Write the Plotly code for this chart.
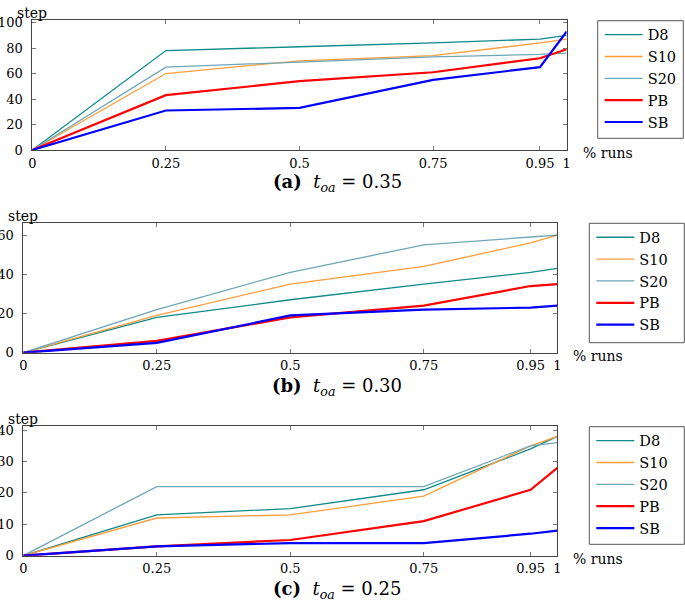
import plotly.graph_objects as go

x_vals = [0, 0.25, 0.5, 0.75, 0.95, 1]
series_names = ["D8", "S10", "S20", "PB", "SB"]

# panel (a) t_oa = 0.35
a_D8 = [0, 78, 81, 84, 87, 90]
a_S10 = [0, 60, 70, 74, 84, 87]
a_S20 = [0, 65, 69, 73, 75, 76]
a_PB = [0, 43, 54, 61, 72, 79]
a_SB = [0, 31, 33, 55, 65, 93]

# panel (b) t_oa = 0.30
b_D8 = [0, 18, 27, 35, 41, 43]
b_S10 = [0, 19, 35, 44, 56, 60]
b_S20 = [0, 22, 41, 55, 59, 60]
b_PB = [0, 6, 18, 24, 34, 35]
b_SB = [0, 5, 19, 22, 23, 24]

# panel (c) t_oa = 0.25
c_D8 = [0, 13, 15, 21, 34, 38]
c_S10 = [0, 12, 13, 19, 35, 38]
c_S20 = [0, 22, 22, 22, 35, 36]
c_PB = [0, 3, 5, 11, 21, 28]
c_SB = [0, 3, 4, 4, 7, 8]

x_tick_vals = [0, 0.25, 0.5, 0.75, 0.95, 1]
x_tick_text = ["0", "0.25", "0.5", "0.75", "0.95", "1"]
y_ticks_a = [0, 20, 40, 60, 80, 100]
y_ticks_b = [0, 20, 40, 60]
y_ticks_c = [0, 10, 20, 30, 40]
captions = ["<b>(a)</b>  <i>t</i><sub><i>oa</i></sub> = 0.35",
            "<b>(b)</b>  <i>t</i><sub><i>oa</i></sub> = 0.30",
            "<b>(c)</b>  <i>t</i><sub><i>oa</i></sub> = 0.25"]

colors = {"D8": "#0f8a8a", "S10": "#ff9d3a", "S20": "#6fa6b8", "PB": "#ff0000", "SB": "#0000ff"}
widths = {"D8": 1.3, "S10": 1.3, "S20": 1.3, "PB": 2.2, "SB": 2.2}

W, H = 685, 607
FONT = "DejaVu Serif"

panels = [
    dict(data=[a_D8, a_S10, a_S20, a_PB, a_SB], xdom=(32.3, 566.7), ydom=(20, 150),
         yr=[0, 102], yt=y_ticks_a, leg=(597.7, 683.3, 20.7, 138.3), cap=183),
    dict(data=[b_D8, b_S10, b_S20, b_PB, b_SB], xdom=(23.3, 557.3), ydom=(223.3, 352.7),
         yr=[0, 66], yt=y_ticks_b, leg=(589.3, 684.3, 223.3, 342.7), cap=387),
    dict(data=[c_D8, c_S10, c_S20, c_PB, c_SB], xdom=(23.3, 557.3), ydom=(425.7, 555.7),
         yr=[0, 41.4], yt=y_ticks_c, leg=(589.3, 684.3, 426.7, 544.3), cap=590),
]

fig = go.Figure()
layout = dict(width=W, height=H, margin=dict(l=0, r=0, t=0, b=0, autoexpand=False),
              paper_bgcolor="white", plot_bgcolor="white",
              font=dict(family=FONT, size=14, color="black"),
              shapes=[], annotations=[])

for i, p in enumerate(panels):
    k = "" if i == 0 else str(i + 1)
    legname = "legend" + k
    for name, vals in zip(series_names, p["data"]):
        fig.add_trace(go.Scatter(x=x_vals, y=vals, mode="lines", name=name,
                                 line=dict(color=colors[name], width=widths[name]),
                                 xaxis="x" + k, yaxis="y" + k, legend=legname,
                                 showlegend=True))
    x0, x1 = p["xdom"]
    yt, yb = p["ydom"]
    axis_common = dict(showline=True, linecolor="#444", linewidth=1, mirror="allticks",
                       ticks="inside", ticklen=4, tickcolor="#777", tickwidth=1,
                       showgrid=False, zeroline=False, automargin=False,
                       tickfont=dict(family=FONT, size=13, color="black"))
    layout["xaxis" + k] = dict(domain=[x0 / W, x1 / W], range=[0, 1], anchor="y" + k,
                               tickvals=x_tick_vals, ticktext=x_tick_text,
                               ticklabelstandoff=1, **axis_common)
    layout["yaxis" + k] = dict(domain=[1 - yb / H, 1 - yt / H], range=p["yr"], anchor="x" + k,
                               tickvals=p["yt"], ticklabelstandoff=6, **axis_common)
    lx0, lx1, ly0, ly1 = p["leg"]
    layout[legname] = dict(x=(lx0 + 2) / W, y=1 - (ly0 - 2) / H, xanchor="left", yanchor="top",
                           bgcolor="rgba(0,0,0,0)", borderwidth=0, itemwidth=38,
                           font=dict(family=FONT, size=14.5, color="black"),
                           tracegroupgap=0, itemclick=False)
    layout["shapes"].append(dict(type="rect", xref="paper", yref="paper",
                                 x0=lx0 / W, x1=lx1 / W, y0=1 - ly1 / H, y1=1 - ly0 / H,
                                 line=dict(color="#555", width=1), fillcolor="rgba(0,0,0,0)"))
    layout["annotations"].append(dict(text="step", xref="x" + k + " domain", yref="y" + k + " domain",
                                      x=0, y=1, xanchor="center", yanchor="bottom", showarrow=False,
                                      yshift=-3, font=dict(family=FONT, size=14)))
    layout["annotations"].append(dict(text="% runs", xref="x" + k + " domain", yref="y" + k + " domain",
                                      x=1, y=0, xanchor="left", yanchor="middle", showarrow=False,
                                      xshift=14, yshift=-3, font=dict(family=FONT, size=14)))
    layout["annotations"].append(dict(text=captions[i], xref="paper", yref="paper",
                                      x=337 / W, y=1 - p["cap"] / H, xanchor="center", yanchor="middle",
                                      showarrow=False, font=dict(family=FONT, size=18)))

fig.update_layout(**layout)
fig.write_html("out.html", post_script="document.body.style.margin='0px';",
               config={"displayModeBar": False})
